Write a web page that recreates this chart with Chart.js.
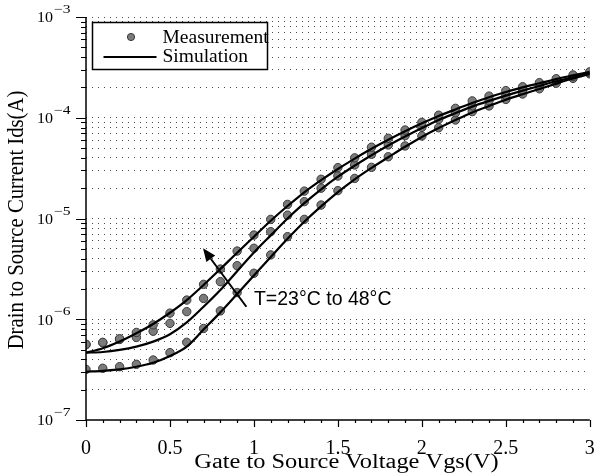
<!DOCTYPE html>
<html>
<head>
<meta charset="utf-8">
<script src="https://cdn.jsdelivr.net/npm/chart.js@4.4.1/dist/chart.umd.min.js"></script>
<style>
  html, body { margin: 0; padding: 0; background: #fff; }
  canvas { display: block; }
</style>
</head>
<body>
<canvas id="chart" width="595" height="476"></canvas>
<script>
// Gate voltage sweep (V)
const vgs = [0, 0.1, 0.2, 0.3, 0.4, 0.5, 0.6, 0.7, 0.8, 0.9, 1.0,
             1.1, 1.2, 1.3, 1.4, 1.5, 1.6, 1.7, 1.8, 1.9, 2.0,
             2.1, 2.2, 2.3, 2.4, 2.5, 2.6, 2.7, 2.8, 2.9, 3.0];

// Measured Ids (A), three temperatures (upper curve = hottest)
const measHigh = [5.64e-7, 5.9e-7, 6.4e-7, 7.4e-7, 8.8e-7, 1.15e-6, 1.55e-6, 2.22e-6, 3.15e-6, 4.75e-6, 6.85e-6,
                  9.8e-6, 1.38e-5, 1.87e-5, 2.45e-5, 3.2e-5, 4.0e-5, 5.1e-5, 6.25e-5, 7.55e-5, 9.0e-5,
                  1.06e-4, 1.24e-4, 1.47e-4, 1.64e-4, 1.86e-4, 2.03e-4, 2.23e-4, 2.44e-4, 2.66e-4, 2.86e-4];
const measMid  = [5.6e-7, 5.85e-7, 6.3e-7, 6.6e-7, 7.6e-7, 9.1e-7, 1.19e-6, 1.61e-6, 2.36e-6, 3.4e-6, 5.06e-6,
                  7.4e-6, 1.08e-5, 1.47e-5, 2.0e-5, 2.64e-5, 3.4e-5, 4.34e-5, 5.37e-5, 6.64e-5, 8.04e-5,
                  9.65e-5, 1.12e-4, 1.31e-4, 1.48e-4, 1.68e-4, 1.88e-4, 2.1e-4, 2.33e-4, 2.56e-4, 2.8e-4];
const measLow  = [3.18e-7, 3.26e-7, 3.38e-7, 3.57e-7, 3.94e-7, 4.66e-7, 5.9e-7, 8.1e-7, 1.21e-6, 1.84e-6, 2.86e-6,
                  4.35e-6, 6.6e-6, 9.8e-6, 1.36e-5, 1.89e-5, 2.5e-5, 3.22e-5, 4.1e-5, 5.25e-5, 6.6e-5,
                  7.96e-5, 9.5e-5, 1.15e-4, 1.31e-4, 1.52e-4, 1.72e-4, 1.94e-4, 2.2e-4, 2.46e-4, 2.73e-4];

// Simulated Ids (A)
const simHigh = [4.66e-7, 5.15e-7, 6.0e-7, 7.26e-7, 8.98e-7, 1.16e-6, 1.55e-6, 2.19e-6, 3.15e-6, 4.58e-6, 6.6e-6,
                 9.5e-6, 1.33e-5, 1.82e-5, 2.4e-5, 3.1e-5, 3.93e-5, 4.92e-5, 6.05e-5, 7.35e-5, 8.8e-5,
                 1.04e-4, 1.21e-4, 1.4e-4, 1.6e-4, 1.8e-4, 2.0e-4, 2.2e-4, 2.42e-4, 2.63e-4, 2.85e-4];
const simMid  = [4.66e-7, 4.73e-7, 4.96e-7, 5.35e-7, 6.0e-7, 7.1e-7, 9.3e-7, 1.33e-6, 1.95e-6, 3.0e-6, 4.6e-6,
                 6.8e-6, 1.0e-5, 1.42e-5, 1.95e-5, 2.6e-5, 3.35e-5, 4.25e-5, 5.3e-5, 6.5e-5, 7.9e-5,
                 9.5e-5, 1.11e-4, 1.29e-4, 1.47e-4, 1.66e-4, 1.86e-4, 2.07e-4, 2.3e-4, 2.53e-4, 2.78e-4];
const simLow  = [3.01e-7, 3.08e-7, 3.18e-7, 3.38e-7, 3.7e-7, 4.32e-7, 5.35e-7, 7.9e-7, 1.17e-6, 1.78e-6, 2.72e-6,
                 4.15e-6, 6.3e-6, 9.3e-6, 1.32e-5, 1.83e-5, 2.45e-5, 3.18e-5, 4.05e-5, 5.15e-5, 6.45e-5,
                 7.9e-5, 9.5e-5, 1.13e-4, 1.31e-4, 1.51e-4, 1.71e-4, 1.93e-4, 2.18e-4, 2.45e-4, 2.72e-4];

// Axis ticks
const xMajorTicks = [0, 0.5, 1, 1.5, 2, 2.5, 3];
const yDecades = [-7, -6, -5, -4, -3];
const yMantissas = [1, 2, 3, 4, 5, 6, 7, 8, 9];

// Arrow annotation (data coords)
const arrowTail = { x: 0.955, y: 1.33e-6 };
const arrowHead = { x: 0.697, y: 5.06e-6 };
const annoText = { x: 1.0, y: 1.55e-6, text: 'T=23°C to 48°C' };

const SERIF = '"Liberation Serif", "Times New Roman", serif';
const SANS = '"Liberation Sans", Arial, sans-serif';

const toPoints = arr => arr.map((v, i) => ({ x: vgs[i], y: v }));

// grid values for the log axis: 1..9 x each decade, plus the top
const yGridValues = [];
yDecades.slice(0, -1).forEach(e => yMantissas.forEach(m => yGridValues.push(m * Math.pow(10, e))));
yGridValues.push(Math.pow(10, yDecades[yDecades.length - 1]));

const xTickValues = [];
for (let i = 0; i <= 30; i++) xTickValues.push(i / 10);

function isDecade(v) {
    const l = Math.log10(v);
    return Math.abs(l - Math.round(l)) < 1e-6;
}

function measSet(data) {
    return {
        type: 'scatter',
        data: toPoints(data),
        pointRadius: 4.2,
        pointBackgroundColor: '#7b7b7b',
        pointBorderColor: '#3a3a3a',
        pointBorderWidth: 1,
        showLine: false,
        order: 2
    };
}

function simSet(data) {
    return {
        type: 'line',
        data: toPoints(data),
        borderColor: '#000',
        borderWidth: 2.2,
        pointRadius: 0,
        cubicInterpolationMode: 'monotone',
        fill: false,
        order: 1
    };
}

// draw text stretched along its baseline (the reference text is wider than plain Times)
function stretchedText(ctx, text, x, y, sx, sy) {
    ctx.save();
    ctx.translate(x, y);
    ctx.scale(sx, sy || 1);
    ctx.fillText(text, 0, 0);
    ctx.restore();
}

const decorations = {
    id: 'decorations',
    afterDraw(chart) {
        const ctx = chart.ctx;
        const { left, right, top, bottom } = chart.chartArea;
        const xs = chart.scales.x, ys = chart.scales.y;
        ctx.save();

        // axis lines
        ctx.strokeStyle = '#000';
        ctx.lineWidth = 1.5;
        ctx.beginPath();
        ctx.moveTo(left, top);
        ctx.lineTo(left, bottom);
        ctx.lineTo(right, bottom);
        ctx.stroke();

        // y ticks
        ctx.lineWidth = 1.2;
        ctx.beginPath();
        yGridValues.forEach(v => {
            const py = Math.round(ys.getPixelForValue(v)) + 0.5;
            ctx.moveTo(left - (isDecade(v) ? 10 : 5), py);
            ctx.lineTo(left, py);
        });
        // x ticks
        xTickValues.forEach(v => {
            const px = Math.round(xs.getPixelForValue(v)) + 0.5;
            const major = xMajorTicks.some(m => Math.abs(m - v) < 1e-6);
            ctx.moveTo(px, bottom);
            ctx.lineTo(px, bottom + (major ? 7 : 3));
        });
        ctx.stroke();

        // y labels 10^n
        ctx.fillStyle = '#000';
        ctx.textBaseline = 'middle';
        yDecades.forEach(e => {
            const py = ys.getPixelForValue(Math.pow(10, e));
            ctx.font = '15px ' + SERIF;
            ctx.textAlign = 'right';
            stretchedText(ctx, '10', left - 33, py + 1.5, 1.07);
            ctx.font = '12px ' + SERIF;
            ctx.textAlign = 'left';
            stretchedText(ctx, '\u2212' + Math.abs(e), left - 32, py - 7, 1.3);
        });

        // axis titles
        ctx.font = '20px ' + SERIF;
        ctx.textAlign = 'center';
        stretchedText(ctx, 'Gate to Source Voltage Vgs(V)', 346.5, 463, 1.22);
        ctx.save();
        ctx.translate(17, 220);
        ctx.rotate(-Math.PI / 2);
        ctx.font = '23px ' + SERIF;
        stretchedText(ctx, 'Drain to Source Current Ids(A)', 0, 0, 0.9);
        ctx.restore();

        // arrow
        const tx = xs.getPixelForValue(arrowTail.x), ty = ys.getPixelForValue(arrowTail.y);
        const hx = xs.getPixelForValue(arrowHead.x), hy = ys.getPixelForValue(arrowHead.y);
        const ang = Math.atan2(hy - ty, hx - tx);
        const headLen = 13, headW = 5.5;
        const bx = hx - headLen * Math.cos(ang), by = hy - headLen * Math.sin(ang);
        ctx.lineWidth = 2;
        ctx.beginPath();
        ctx.moveTo(tx, ty);
        ctx.lineTo(bx, by);
        ctx.stroke();
        ctx.beginPath();
        ctx.moveTo(hx, hy);
        ctx.lineTo(bx + headW * Math.sin(ang), by - headW * Math.cos(ang));
        ctx.lineTo(bx - headW * Math.sin(ang), by + headW * Math.cos(ang));
        ctx.closePath();
        ctx.fill();

        ctx.font = '19.5px ' + SANS;
        ctx.textAlign = 'left';
        ctx.fillText(annoText.text, xs.getPixelForValue(annoText.x), ys.getPixelForValue(annoText.y));

        // legend box
        const lx = left + 6.5, ly = top + 5.5, lw = 175, lh = 47;
        ctx.fillStyle = '#fff';
        ctx.fillRect(lx, ly, lw, lh);
        ctx.strokeStyle = '#000';
        ctx.lineWidth = 1.5;
        ctx.strokeRect(lx, ly, lw, lh);
        ctx.beginPath();
        ctx.arc(lx + 38.5, ly + 14.5, 3.6, 0, Math.PI * 2);
        ctx.fillStyle = '#7b7b7b';
        ctx.fill();
        ctx.lineWidth = 1;
        ctx.strokeStyle = '#3a3a3a';
        ctx.stroke();
        ctx.beginPath();
        ctx.strokeStyle = '#000';
        ctx.lineWidth = 2.2;
        ctx.moveTo(lx + 11, ly + 34.5);
        ctx.lineTo(lx + 64, ly + 34.5);
        ctx.stroke();
        ctx.fillStyle = '#000';
        ctx.font = '19.5px ' + SERIF;
        ctx.fillText('Measurement', lx + 70, ly + 15.5);
        ctx.fillText('Simulation', lx + 70, ly + 34.5);

        ctx.restore();
    }
};

new Chart(document.getElementById('chart').getContext('2d'), {
    data: {
        datasets: [
            measSet(measHigh), measSet(measMid), measSet(measLow),
            simSet(simHigh), simSet(simMid), simSet(simLow)
        ]
    },
    options: {
        responsive: false,
        animation: false,
        devicePixelRatio: 1,
        layout: { padding: { top: 17, right: 4, left: 0, bottom: 0 } },
        plugins: { legend: { display: false }, tooltip: { enabled: false } },
        scales: {
            x: {
                type: 'linear',
                min: 0,
                max: 3,
                afterBuildTicks: scale => { scale.ticks = xTickValues.map(v => ({ value: v })); },
                afterFit: scale => {
                    scale.height = 56;
                    scale.paddingLeft = 0;
                    scale.paddingRight = 0;
                },
                grid: { display: false, drawTicks: false },
                border: { display: false },
                ticks: {
                    autoSkip: false,
                    maxRotation: 0,
                    minRotation: 0,
                    padding: 17,
                    color: '#000',
                    font: { family: SERIF, size: 20 },
                    callback: v => xMajorTicks.some(m => Math.abs(m - v) < 1e-6) ? String(Math.round(v * 10) / 10) : ''
                }
            },
            y: {
                type: 'logarithmic',
                min: 1e-7,
                max: 1e-3,
                afterBuildTicks: scale => { scale.ticks = yGridValues.map(v => ({ value: v })); },
                afterFit: scale => { scale.width = 86; },
                grid: {
                    drawTicks: false,
                    lineWidth: 1,
                    color: c => (c.tick && c.tick.value <= 1.000001e-7) ? 'rgba(0,0,0,0)' : '#4a4a4a'
                },
                border: { display: false, dash: [1, 5] },
                ticks: { display: false, autoSkip: false }
            }
        }
    },
    plugins: [decorations]
});
</script>
</body>
</html>
